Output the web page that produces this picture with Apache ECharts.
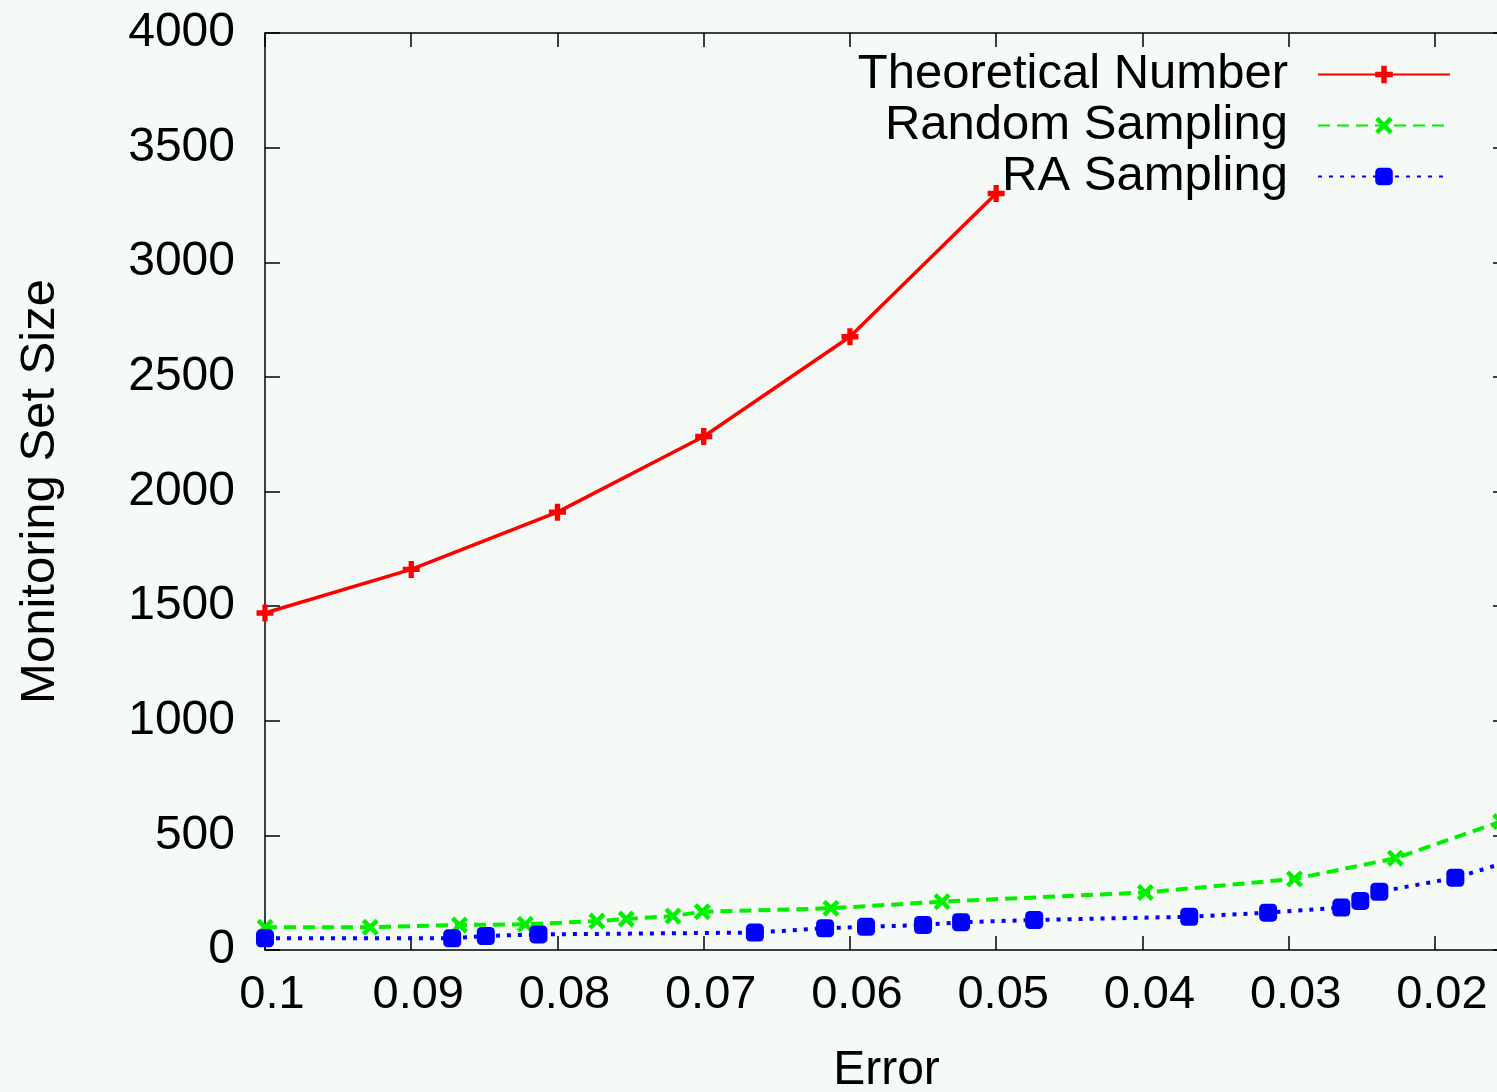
<!DOCTYPE html>
<html>
<head>
<meta charset="utf-8">
<script src="https://cdn.jsdelivr.net/npm/echarts@6/dist/echarts.min.js"></script>
<style>
  html, body { margin: 0; padding: 0; background: #f5faf6; overflow: hidden; }
  #chart { width: 1497px; height: 1092px; }
</style>
</head>
<body>
<div id="chart"></div>
<script>
// error tick positions on the x axis
const xTicks = [0.1, 0.09, 0.08, 0.07, 0.06, 0.05, 0.04, 0.03, 0.02]

// Theoretical Number
const theoErr = [0.1, 0.09, 0.08, 0.07, 0.06, 0.05]
const theoSize = [1470, 1660, 1910, 2240, 2675, 3300]

// Random Sampling
const randErr = [0.1, 0.0928, 0.0867, 0.0822, 0.0773, 0.0753, 0.0721, 0.0701, 0.0613, 0.0537, 0.0398, 0.0296, 0.0227, 0.0155]
const randSize = [99, 99, 109, 112, 126, 135, 148, 167, 182, 211, 251, 310, 400, 560]

// RA Sampling
const raErr = [0.1, 0.0872, 0.0849, 0.0813, 0.0665, 0.0617, 0.0589, 0.0550, 0.0524, 0.0474, 0.0368, 0.0314, 0.0264, 0.0251, 0.0238, 0.0186, 0.015]
const raSize = [51, 51, 61, 68, 76, 95, 101, 109, 121, 131, 145, 163, 185, 214, 254, 315, 385]

const pairs = (xs, ys) => xs.map((x, i) => [x, ys[i]])

const FONT = 'Liberation Sans, Arial, Helvetica, sans-serif'
const PLUS = 'path://M-2.5,-8H2.5V-2.5H8V2.5H2.5V8H-2.5V2.5H-8V-2.5H-2.5Z'
const CROSS = 'path://M-8,-5L-5,-8L0,-3L5,-8L8,-5L3,0L8,5L5,8L0,3L-5,8L-8,5L-3,0Z'

const chart = echarts.init(document.getElementById('chart'), null, { renderer: 'canvas' })

// gnuplot-style box: all four sides drawn, ticks pointing inward
const axisLine = { show: true, onZero: false, lineStyle: { color: '#000', width: 1.5 } }
const xTick = () => ({ show: true, inside: true, length: 14, customValues: xTicks, lineStyle: { color: '#000', width: 1.5 } })
const yTick = () => ({ show: true, inside: true, length: 15, lineStyle: { color: '#000', width: 1.5 } })

const option = {
  backgroundColor: '#f5faf6',
  animation: false,
  textStyle: { fontFamily: FONT },
  grid: { left: 265, top: 33, width: 1243, height: 917, outerBoundsMode: 'none' },
  legend: {
    orient: 'vertical',
    right: 41,
    top: 45,
    align: 'right',
    itemWidth: 132,
    itemHeight: 22,
    itemGap: 2,
    textStyle: { fontSize: 49, lineHeight: 48, color: '#000', fontFamily: FONT, padding: [0, 25, 0, 0] },
    data: ['Theoretical Number', 'Random Sampling', 'RA Sampling']
  },
  xAxis: [
    {
      type: 'value',
      position: 'bottom',
      inverse: true,
      min: 0.015,
      max: 0.1,
      name: 'Error',
      nameLocation: 'middle',
      nameGap: 97,
      nameTextStyle: { fontSize: 48, color: '#000', fontFamily: FONT },
      axisLine: axisLine,
      axisTick: xTick(),
      axisLabel: {
        customValues: xTicks,
        fontSize: 47,
        color: '#000',
        margin: 22,
        padding: [0, 0, 0, 14],
        fontFamily: FONT,
        formatter: v => String(parseFloat(v.toFixed(2)))
      },
      splitLine: { show: false }
    },
    {
      type: 'value',
      position: 'top',
      inverse: true,
      min: 0.015,
      max: 0.1,
      axisLine: axisLine,
      axisTick: xTick(),
      axisLabel: { show: false, customValues: xTicks },
      splitLine: { show: false }
    }
  ],
  yAxis: [
    {
      type: 'value',
      position: 'left',
      min: 0,
      max: 4000,
      interval: 500,
      name: 'Monitoring Set Size',
      nameLocation: 'middle',
      nameGap: 200,
      nameTextStyle: { fontSize: 49, color: '#000', fontFamily: FONT },
      axisLine: axisLine,
      axisTick: yTick(),
      axisLabel: { fontSize: 48, color: '#000', margin: 30, fontFamily: FONT, formatter: v => String(v) },
      splitLine: { show: false }
    },
    {
      type: 'value',
      position: 'right',
      min: 0,
      max: 4000,
      interval: 500,
      axisLine: axisLine,
      axisTick: yTick(),
      axisLabel: { show: false },
      splitLine: { show: false }
    }
  ],
  series: [
    {
      name: 'Theoretical Number',
      type: 'line',
      data: pairs(theoErr, theoSize),
      symbol: PLUS,
      symbolSize: 17,
      lineStyle: { color: '#ff0000', width: 3.5 },
      itemStyle: { color: '#ff0000' }
    },
    {
      name: 'Random Sampling',
      type: 'line',
      data: pairs(randErr, randSize),
      symbol: CROSS,
      symbolSize: 17,
      lineStyle: { color: '#00f000', width: 4, type: [12, 7] },
      itemStyle: { color: '#00f000' }
    },
    {
      name: 'RA Sampling',
      type: 'line',
      data: pairs(raErr, raSize),
      symbol: 'roundRect',
      symbolSize: 18,
      lineStyle: { color: '#0000ff', width: 4, type: [4, 7] },
      itemStyle: { color: '#0000ff' }
    }
  ]
}

chart.setOption(option)
</script>
</body>
</html>
